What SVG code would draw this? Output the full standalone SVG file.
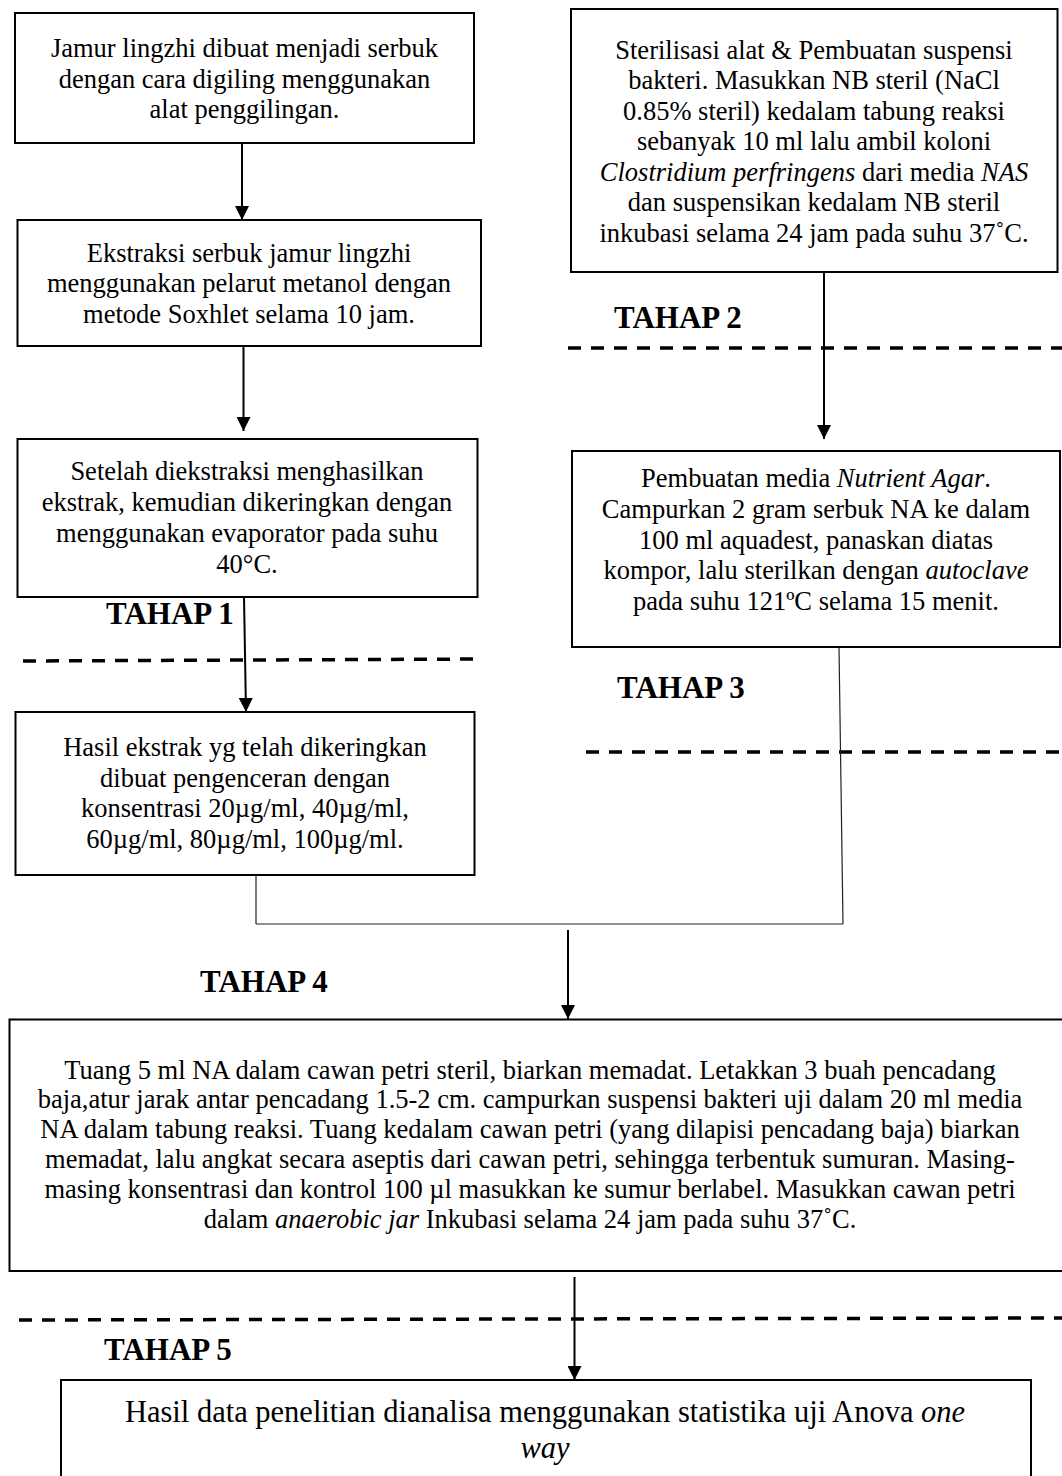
<svg xmlns="http://www.w3.org/2000/svg" width="1062" height="1476" viewBox="0 0 1062 1476">
<style>
.box{fill:#fff;stroke:#000;stroke-width:2}
.t{font-family:"Liberation Serif","Times New Roman",serif;font-size:26.5px;fill:#000;text-anchor:middle}
.big{font-size:30.5px}
.tahap{font-family:"Liberation Serif","Times New Roman",serif;font-size:31px;font-weight:bold;fill:#000}
.i{font-style:italic}
.arr{stroke:#000;stroke-width:2;fill:none;marker-end:url(#ah)}
.thin{stroke:#222;stroke-width:1.2;fill:none}
.dash{stroke:#000;stroke-width:3.5;stroke-dasharray:13 10;fill:none}
</style>
<defs>
<marker id="ah" viewBox="0 0 10 10" refX="10" refY="5" markerWidth="15" markerHeight="14" markerUnits="userSpaceOnUse" orient="auto">
<path d="M0,0 L10,5 L0,10 z" fill="#000"/>
</marker>
</defs>
<rect width="1062" height="1476" fill="#fff"/>

<g id="dividers">
<line class="dash" x1="23" y1="661" x2="480" y2="659"/>
<line class="dash" x1="568" y1="348" x2="1062" y2="348"/>
<line class="dash" x1="586" y1="752" x2="1062" y2="752"/>
<line class="dash" x1="19" y1="1320" x2="1062" y2="1318"/>
</g>

<g id="labels">
<text class="tahap" x="106" y="624">TAHAP 1</text>
<text class="tahap" x="614" y="328">TAHAP 2</text>
<text class="tahap" x="617" y="698">TAHAP 3</text>
<text class="tahap" x="200" y="992">TAHAP 4</text>
<text class="tahap" x="104" y="1360">TAHAP 5</text>
</g>

<g id="connectors">
<line class="arr" x1="242" y1="143" x2="242" y2="220"/>
<line class="arr" x1="243.5" y1="347" x2="243.5" y2="431"/>
<line class="arr" x1="244" y1="597" x2="246" y2="712"/>
<line class="arr" x1="824" y1="272" x2="824" y2="439"/>
<line class="thin" x1="256" y1="875" x2="256" y2="924"/>
<line class="thin" x1="839" y1="647" x2="843" y2="924"/>
<line class="thin" x1="256" y1="924" x2="843" y2="924"/>
<line class="arr" x1="568" y1="930" x2="568" y2="1019"/>
<line class="arr" x1="574.5" y1="1277" x2="574.5" y2="1380"/>
</g>

<g id="n1">
<rect class="box" x="15" y="13" width="459" height="130"/>
<text class="t" x="244.5" y="57">Jamur lingzhi dibuat menjadi serbuk</text>
<text class="t" x="244.5" y="87.5">dengan cara digiling menggunakan</text>
<text class="t" x="244.5" y="118">alat penggilingan.</text>
</g>

<g id="n2">
<rect class="box" x="17.5" y="220" width="463.5" height="126"/>
<text class="t" x="249" y="262">Ekstraksi serbuk jamur lingzhi</text>
<text class="t" x="249" y="292">menggunakan pelarut metanol dengan</text>
<text class="t" x="249" y="323">metode Soxhlet selama 10 jam.</text>
</g>

<g id="n3">
<rect class="box" x="17.5" y="439" width="460" height="158"/>
<text class="t" x="247" y="480">Setelah diekstraksi menghasilkan</text>
<text class="t" x="247" y="510.5">ekstrak, kemudian dikeringkan dengan</text>
<text class="t" x="247" y="541.5">menggunakan evaporator pada suhu</text>
<text class="t" x="247" y="573">40°C.</text>
</g>

<g id="n4">
<rect class="box" x="15.5" y="712" width="459" height="163"/>
<text class="t" x="245" y="756">Hasil ekstrak yg telah dikeringkan</text>
<text class="t" x="245" y="786.5">dibuat pengenceran dengan</text>
<text class="t" x="245" y="817">konsentrasi 20µg/ml, 40µg/ml,</text>
<text class="t" x="245" y="848">60µg/ml, 80µg/ml, 100µg/ml.</text>
</g>

<g id="n5">
<rect class="box" x="571" y="9" width="486.5" height="263"/>
<text class="t" x="814" y="58.5">Sterilisasi alat &amp; Pembuatan suspensi</text>
<text class="t" x="814" y="89">bakteri. Masukkan NB steril (NaCl</text>
<text class="t" x="814" y="119.5">0.85% steril) kedalam tabung reaksi</text>
<text class="t" x="814" y="150">sebanyak 10 ml lalu ambil koloni</text>
<text class="t" x="814" y="180.5"><tspan class="i">Clostridium perfringens</tspan> dari media <tspan class="i">NAS</tspan></text>
<text class="t" x="814" y="211">dan suspensikan kedalam NB steril</text>
<text class="t" x="814" y="241.5">inkubasi selama 24 jam pada suhu 37˚C.</text>
</g>

<g id="n6">
<rect class="box" x="572" y="451" width="488" height="196"/>
<text class="t" x="816" y="487"><tspan>Pembuatan media </tspan><tspan class="i">Nutrient Agar</tspan><tspan>.</tspan></text>
<text class="t" x="816" y="518">Campurkan 2 gram serbuk NA ke dalam</text>
<text class="t" x="816" y="548.5">100 ml aquadest, panaskan diatas</text>
<text class="t" x="816" y="579">kompor, lalu sterilkan dengan <tspan class="i">autoclave</tspan></text>
<text class="t" x="816" y="610">pada suhu 121ºC selama 15 menit.</text>
</g>

<g id="n7">
<rect class="box" x="9.5" y="1019.5" width="1062" height="251.5"/>
<text class="t" x="530" y="1078.5">Tuang 5 ml NA dalam cawan petri steril, biarkan memadat. Letakkan 3 buah pencadang</text>
<text class="t" x="530" y="1108">baja,atur jarak antar pencadang 1.5-2 cm. campurkan suspensi bakteri uji dalam 20 ml media</text>
<text class="t" x="530" y="1138">NA dalam tabung reaksi. Tuang kedalam cawan petri (yang dilapisi pencadang baja) biarkan</text>
<text class="t" x="530" y="1168">memadat, lalu angkat secara aseptis dari cawan petri, sehingga terbentuk sumuran. Masing-</text>
<text class="t" x="530" y="1198">masing konsentrasi dan kontrol 100 µl masukkan ke sumur berlabel. Masukkan cawan petri</text>
<text class="t" x="530" y="1228">dalam <tspan class="i">anaerobic jar</tspan> Inkubasi selama 24 jam pada suhu 37˚C.</text>
</g>

<g id="n8">
<rect class="box" x="61" y="1380" width="970" height="110"/>
<text class="t big" x="545" y="1422">Hasil data penelitian dianalisa menggunakan statistika uji Anova <tspan class="i">one</tspan></text>
<text class="t big i" x="545" y="1458">way</text>
</g>
</svg>
